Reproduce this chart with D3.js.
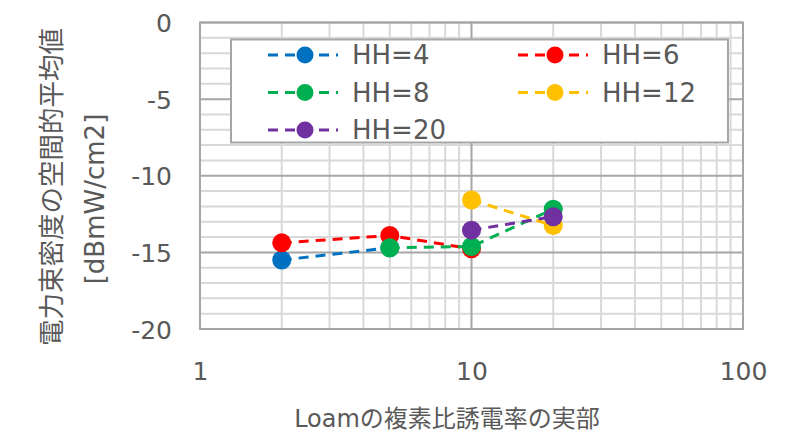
<!DOCTYPE html>
<html>
<head>
<meta charset="utf-8">
<script src="https://cdn.jsdelivr.net/npm/d3@7"></script>
<style>
  html, body { margin: 0; padding: 0; background: #fff; }
  svg text { font-family: "DejaVu Sans", "Noto Sans CJK JP", sans-serif; fill: #595959; }
</style>
</head>
<body>
<svg id="chart" width="787" height="445"></svg>
<script>
// Series: x = real part of relative permittivity, y = mean power flux density [dBmW/cm2]
const seriesNames = ["HH=4", "HH=6", "HH=8", "HH=12", "HH=20"];
const seriesColors = ["#0070C0", "#FF0000", "#00B050", "#FFC000", "#7030A0"];
const hh4X = [2, 5], hh4Y = [-15.5, -14.7];
const hh6X = [2, 5, 10], hh6Y = [-14.38, -13.9, -14.77];
const hh8X = [5, 10, 20], hh8Y = [-14.7, -14.62, -12.18];
const hh12X = [10, 20], hh12Y = [-11.58, -13.25];
const hh20X = [10, 20], hh20Y = [-13.55, -12.67];
const xTicks = [1, 10, 100];
const yTicks = [0, -5, -10, -15, -20];

const seriesX = [hh4X, hh6X, hh8X, hh12X, hh20X];
const seriesY = [hh4Y, hh6Y, hh8Y, hh12Y, hh20Y];

const svg = d3.select("#chart");
const plot = { left: 200, right: 743, top: 22.5, bottom: 329 };

const x = d3.scaleLog().domain([1, 100]).range([plot.left, plot.right]);
const y = d3.scaleLinear().domain([-20, 0]).range([plot.bottom, plot.top]);

// Minor gridlines
const minorX = [];
for (let d = 1; d < 100; d *= 10) for (let k = 2; k <= 9; k++) minorX.push(d * k);
const minorY = d3.range(-20, 1, 1).filter(v => v % 5 !== 0);

const grid = svg.append("g");
grid.selectAll(".mx").data(minorX).join("line")
  .attr("x1", d => x(d)).attr("x2", d => x(d))
  .attr("y1", plot.top).attr("y2", plot.bottom)
  .attr("stroke", "#d9d9d9").attr("stroke-width", 2);
grid.selectAll(".my").data(minorY).join("line")
  .attr("x1", plot.left).attr("x2", plot.right)
  .attr("y1", d => y(d)).attr("y2", d => y(d))
  .attr("stroke", "#d9d9d9").attr("stroke-width", 2);
// Major gridlines
grid.selectAll(".Mx").data(xTicks).join("line")
  .attr("x1", d => x(d)).attr("x2", d => x(d))
  .attr("y1", plot.top).attr("y2", plot.bottom)
  .attr("stroke", "#a6a6a6").attr("stroke-width", 2);
grid.selectAll(".My").data(yTicks).join("line")
  .attr("x1", plot.left).attr("x2", plot.right)
  .attr("y1", d => y(d)).attr("y2", d => y(d))
  .attr("stroke", "#a6a6a6").attr("stroke-width", 2);
// Plot border
svg.append("rect")
  .attr("x", plot.left).attr("y", plot.top)
  .attr("width", plot.right - plot.left).attr("height", plot.bottom - plot.top)
  .attr("fill", "none").attr("stroke", "#a6a6a6").attr("stroke-width", 2);

// Axes (labels only)
const xAxis = svg.append("g").attr("transform", `translate(0,${plot.bottom})`)
  .call(d3.axisBottom(x).tickValues(xTicks).tickFormat(d3.format("d")).tickSize(0).tickPadding(33));
const yAxis = svg.append("g").attr("transform", `translate(${plot.left},0)`)
  .call(d3.axisLeft(y).tickValues(yTicks).tickFormat(d => d === 0 ? "0" : "-" + Math.abs(d)).tickSize(0).tickPadding(28));
[xAxis, yAxis].forEach(a => {
  a.select(".domain").remove();
  a.selectAll("text").attr("font-size", 25).attr("fill", "#595959")
    .style("font-family", "'DejaVu Sans', sans-serif");
});
yAxis.selectAll("text").attr("dy", "0.36em");

// Series
const line = d3.line().x(d => x(d[0])).y(d => y(d[1]));
seriesNames.forEach((name, i) => {
  const pts = seriesX[i].map((v, j) => [v, seriesY[i][j]]);
  const g = svg.append("g");
  g.append("path").attr("d", line(pts)).attr("fill", "none")
    .attr("stroke", seriesColors[i]).attr("stroke-width", 3)
    .attr("stroke-dasharray", "10,7");
  g.selectAll("circle").data(pts).join("circle")
    .attr("cx", d => x(d[0])).attr("cy", d => y(d[1])).attr("r", 9.5)
    .attr("fill", seriesColors[i]);
});

// Legend
const legend = svg.append("g");
legend.append("rect").attr("x", 231).attr("y", 39.5).attr("width", 497).attr("height", 103)
  .attr("fill", "#fff").attr("stroke", "#a6a6a6").attr("stroke-width", 2);
const legendPos = [[0, 0], [1, 0], [0, 1], [1, 1], [0, 2]];
seriesNames.forEach((name, i) => {
  const [c, r] = legendPos[i];
  const lx = 268 + c * 250, ly = 55 + r * 37.5;
  const item = legend.append("g").attr("transform", `translate(${lx},${ly})`);
  item.append("line").attr("x1", 0).attr("x2", 70).attr("y1", 0).attr("y2", 0)
    .attr("stroke", seriesColors[i]).attr("stroke-width", 3)
    .attr("stroke-dasharray", "10,7");
  item.append("circle").attr("cx", 37).attr("cy", 0).attr("r", 8.5).attr("fill", seriesColors[i]);
  item.append("text").attr("x", 84).attr("y", 0).attr("dy", "0.36em")
    .attr("font-size", 26).text(name);
});

// Axis titles
svg.append("text").attr("x", 447).attr("y", 427).attr("text-anchor", "middle")
  .attr("font-size", 24).text("Loamの複素比誘電率の実部");
const yTitle = svg.append("text").attr("transform", "translate(0,187) rotate(-90)")
  .attr("text-anchor", "middle");
yTitle.append("tspan").attr("x", 0).attr("y", 61).attr("font-size", 26.5).text("電力束密度の空間的平均値");
yTitle.append("tspan").attr("x", -12).attr("y", 104).attr("font-size", 26).text("[dBmW/cm2]");
</script>
</body>
</html>
